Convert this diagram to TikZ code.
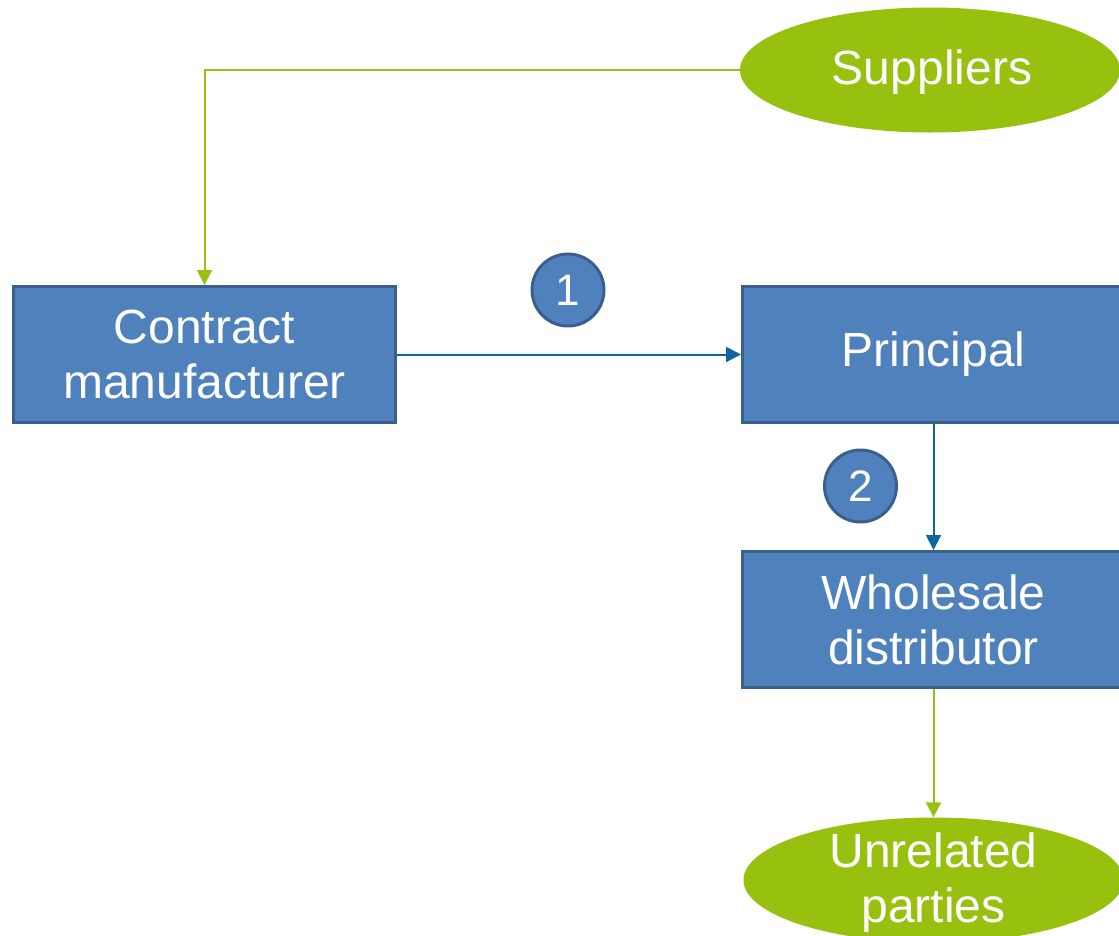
\documentclass[tikz,border=0pt]{standalone}
\usepackage{fontspec}
\setmainfont{Liberation Sans}
\usetikzlibrary{shapes.geometric,arrows.meta}
\definecolor{boxfill}{HTML}{4F81BD}
\definecolor{boxline}{HTML}{3A5F8C}
\definecolor{lime}{HTML}{98C00E}
\definecolor{flowblue}{HTML}{10659E}
\tikzset{
  bigtext/.style={font=\fontsize{48}{55}\selectfont, text=white, align=center},
  entity/.style={bigtext, rectangle, fill=boxfill, draw=boxline, line width=3pt,
    minimum width=382pt, minimum height=136pt, inner sep=0pt},
  party/.style={ellipse, fill=lime, draw=none,
    minimum width=380pt, minimum height=125pt, inner sep=0pt},
  stepnum/.style={circle, fill=boxfill, draw=boxline, line width=3pt,
    minimum size=72pt, inner sep=0pt, text=white, font=\fontsize{44}{50}\selectfont},
  greenflow/.style={draw=lime, line width=2pt, -{Triangle[width=15pt,length=15pt]}},
  blueflow/.style={draw=flowblue, line width=2pt, -{Triangle[width=15pt,length=15pt]}}
}
\begin{document}
\begin{tikzpicture}[x=1pt,y=-1pt]
\useasboundingbox (0,0) rectangle (1119,935);
\node[entity] (cm) at (204.5,354.5) {Contract\\manufacturer};
\node[entity] (pr) at (933.5,354.5) {Principal};
\node[entity] (wd) at (933.5,619.5) {Wholesale\\distributor};
\node[party] (sup) at (930,70) {};
\node[bigtext] (suptext) at (932,72) {Suppliers};
\node[party] (up) at (933.5,880) {};
\node[bigtext] (uptext) at (933.5,883) {Unrelated\\parties};
\node[stepnum] (n1) at (568,290) {1};
\node[stepnum] (n2) at (860.5,486) {2};
\draw[greenflow] (sup.west) -| (cm.north);
\draw[blueflow] (cm.east) -- (pr.west);
\draw[blueflow] (pr.south) -- (wd.north);
\draw[greenflow] (wd.south) -- (up.north);
\end{tikzpicture}
\end{document}
